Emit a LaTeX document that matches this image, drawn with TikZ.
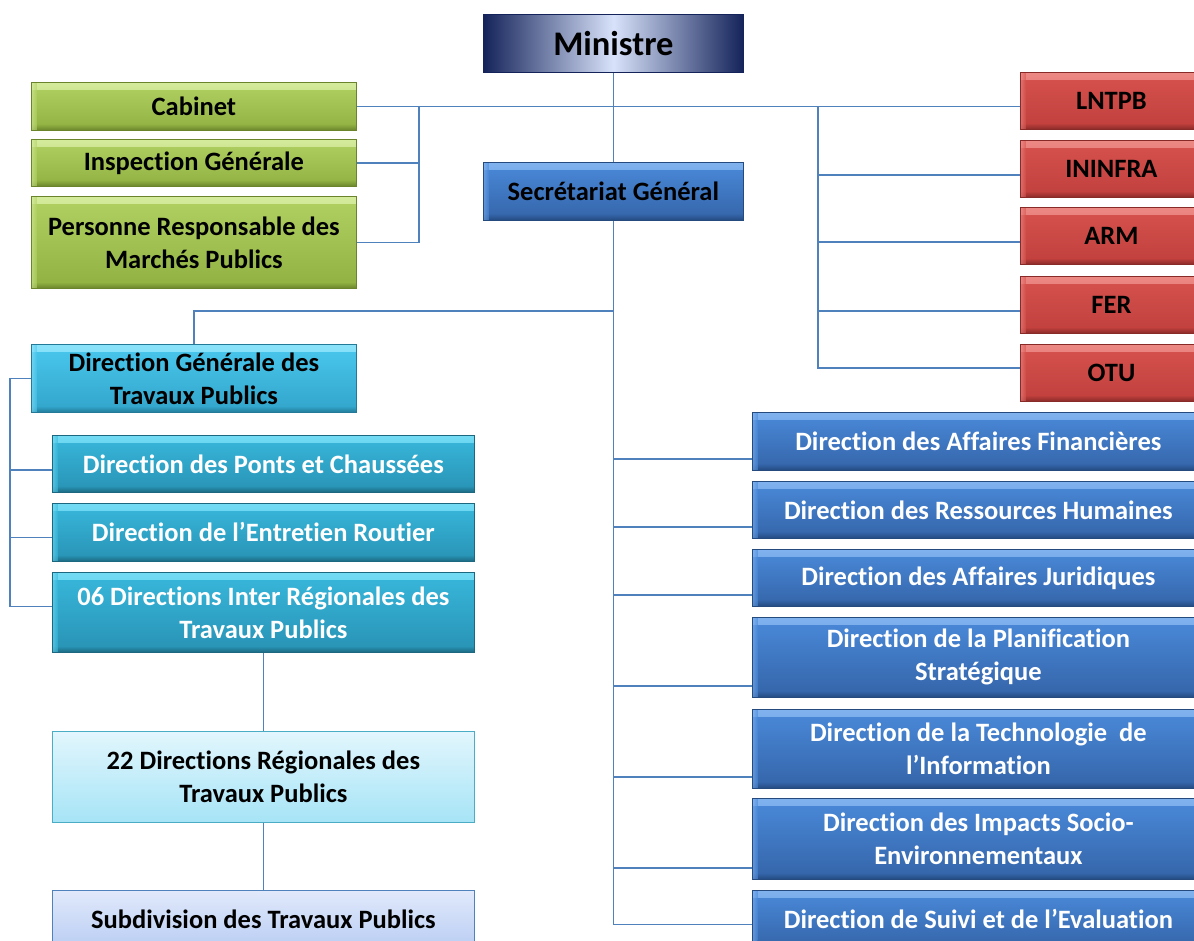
\documentclass[tikz,border=0pt]{standalone}
\usepackage{fontspec}
\setmainfont{Carlito}[Ligatures=NoCommon]
\usetikzlibrary{calc}
\definecolor{grT}{HTML}{B2D163}\definecolor{grB}{HTML}{90B142}\definecolor{grL}{HTML}{D4EB9C}\definecolor{grD}{HTML}{6A842C}
\definecolor{rdT}{HTML}{D6524E}\definecolor{rdB}{HTML}{C0403D}\definecolor{rdL}{HTML}{EC8A86}\definecolor{rdD}{HTML}{872A28}
\definecolor{blT}{HTML}{4A8ADA}\definecolor{blB}{HTML}{3464A8}\definecolor{blL}{HTML}{80B2EE}\definecolor{blD}{HTML}{244A7E}
\definecolor{tlT}{HTML}{38B8DC}\definecolor{tlB}{HTML}{2892B4}\definecolor{tlL}{HTML}{74DBF4}\definecolor{tlD}{HTML}{1C6880}
\definecolor{cyT}{HTML}{4AC8EE}\definecolor{cyB}{HTML}{32A4CA}\definecolor{cyL}{HTML}{8CE3FA}\definecolor{cyD}{HTML}{237A98}
\definecolor{lcT}{HTML}{E2F6FD}\definecolor{lcB}{HTML}{A6E4F6}\definecolor{lcD}{HTML}{4BACC6}
\definecolor{lvT}{HTML}{E1E9FB}\definecolor{lvB}{HTML}{B9CDF3}\definecolor{lvD}{HTML}{4F81BD}
\definecolor{nvO}{HTML}{14235A}\definecolor{nvC}{HTML}{D8E2FA}
\definecolor{conncol}{HTML}{4F81BD}
\tikzset{
  box/.style={anchor=north west, inner sep=2pt, align=center, line width=0.8pt,
    font=\bfseries\fontsize{26.5}{33}\selectfont},
  bevel/.style n args={4}{top color=#1, bottom color=#2, draw=#4,
    path picture={
      \shade[top color=#3, bottom color=#1]
        (path picture bounding box.north west) rectangle ([yshift=-7pt]path picture bounding box.north east);
      \shade[top color=#2, bottom color=#4]
        ([yshift=6pt]path picture bounding box.south west) rectangle (path picture bounding box.south east);
      \shade[left color=#3, right color=#1, opacity=0.6]
        (path picture bounding box.north west) rectangle ([xshift=5pt]path picture bounding box.south west);
    }},
  greenbox/.style={box, bevel={grT}{grB}{grL}{grD}},
  redbox/.style={box, bevel={rdT}{rdB}{rdL}{rdD}},
  bluebox/.style={box, bevel={blT}{blB}{blL}{blD}},
  bluewbox/.style={bluebox, text=white},
  tealbox/.style={box, bevel={tlT}{tlB}{tlL}{tlD}, text=white},
  cyanbox/.style={box, bevel={cyT}{cyB}{cyL}{cyD}},
  lcbox/.style={box, top color=lcT, bottom color=lcB, draw=lcD},
  lvbox/.style={box, top color=lvT, bottom color=lvB, draw=lvD},
  navybox/.style={box, left color=nvO, right color=nvO, middle color=nvC, draw=nvO,
    font=\bfseries\fontsize{34.5}{40}\selectfont},
  conn/.style={draw=conncol, line width=1.5pt}
}
\begin{document}
\begin{tikzpicture}[x=1pt,y=1pt]
\path[use as bounding box, clip] (0,0) rectangle (1194,-941);
\fill[white] (0,0) rectangle (1194,-941);

% top
\node[navybox, minimum width=260pt, minimum height=58pt] (ministre) at (483,-14) {Ministre};
\node[bluebox, minimum width=260pt, minimum height=58pt] (sg) at (483,-162) {Secrétariat Général};

% green
\node[greenbox, minimum width=325pt, minimum height=48pt] (cab) at (31,-82) {Cabinet};
\node[greenbox, minimum width=325pt, minimum height=47pt] (ig) at (31,-139) {Inspection Générale};
\node[greenbox, minimum width=325pt, minimum height=92pt] (prmp) at (31,-196) {Personne Responsable des\\Marchés Publics};

% red
\node[redbox, minimum width=182pt, minimum height=57pt] (lntpb) at (1020,-72) {LNTPB};
\node[redbox, minimum width=182pt, minimum height=57pt] (ininfra) at (1020,-140) {ININFRA};
\node[redbox, minimum width=182pt, minimum height=57pt] (arm) at (1020,-207) {ARM};
\node[redbox, minimum width=182pt, minimum height=57pt] (fer) at (1020,-276) {FER};
\node[redbox, minimum width=182pt, minimum height=57pt] (otu) at (1020,-344) {OTU};

% left branch
\node[cyanbox, minimum width=325pt, minimum height=68pt] (dgtp) at (31,-344) {Direction Générale des\\Travaux Publics};
\node[tealbox, minimum width=422pt, minimum height=57pt] (ponts) at (52,-435) {Direction des Ponts et Chaussées};
\node[tealbox, minimum width=422pt, minimum height=58pt] (entr) at (52,-503) {Direction de l’Entretien Routier};
\node[tealbox, minimum width=422pt, minimum height=80pt] (d06) at (52,-572) {06 Directions Inter Régionales des\\Travaux Publics};
\node[lcbox, minimum width=422pt, minimum height=91pt] (d22) at (52,-731) {22 Directions Régionales des\\Travaux Publics};
\node[lvbox, minimum width=422pt, minimum height=58pt] (subd) at (52,-890) {Subdivision des Travaux Publics};

% right branch
\node[bluewbox, minimum width=452pt, minimum height=58pt] (daf) at (752,-412) {Direction des Affaires Financières};
\node[bluewbox, minimum width=452pt, minimum height=57pt] (drh) at (752,-481) {Direction des Ressources Humaines};
\node[bluewbox, minimum width=452pt, minimum height=57pt] (daj) at (752,-549) {Direction des Affaires Juridiques};
\node[bluewbox, minimum width=452pt, minimum height=80pt] (dps) at (752,-617) {Direction de la Planification\\Stratégique};
\node[bluewbox, minimum width=452pt, minimum height=79pt] (dti) at (752,-709) {Direction de la Technologie \ de\\l’Information};
\node[bluewbox, minimum width=452pt, minimum height=81pt] (dis) at (752,-798) {Direction des Impacts Socio-\\Environnementaux};
\node[bluewbox, minimum width=452pt, minimum height=58pt] (dse) at (752,-890) {Direction de Suivi et de l’Evaluation};

% junctions
\coordinate (jl) at ($(cab.east)+(62,0)$);
\coordinate (jr) at ($(cab.east)+(461,0)$);
\coordinate (jdg) at ($(sg.south)+(0,-90)$);
\coordinate (jg) at ($(dgtp.west)+(-21,0)$);

% connectors top
\draw[conn] (ministre.south) -- (sg.north);
\draw[conn] (cab.east) -- (cab.east -| lntpb.west);
\draw[conn] (ig.east) -| (jl);
\draw[conn] (prmp.east) -| (jl);
\draw[conn] (jr) |- ([yshift=-6pt]ininfra.west);
\draw[conn] (jr) |- ([yshift=-6pt]arm.west);
\draw[conn] (jr) |- ([yshift=-6pt]fer.west);
\draw[conn] (jr) |- ([yshift=5pt]otu.west);

% secretariat trunk
\draw[conn] (sg.south) |- ([yshift=-5pt]dse.west);
\draw[conn] (dgtp.north) |- (jdg);
\foreach \n in {daf,drh,daj,dps,dti,dis}{
  \coordinate (t\n) at ([yshift=12pt]\n.south west);
  \draw[conn] (t\n) -- (sg.south |- t\n);
}

% DGTP trunk
\draw[conn] (dgtp.west) -- (jg) |- ([yshift=6pt]d06.west);
\draw[conn] (jg) |- ([yshift=-6pt]ponts.west);
\draw[conn] (jg) |- ([yshift=-5pt]entr.west);
\draw[conn] (d06.south) -- (d22.north);
\draw[conn] (d22.south) -- (subd.north);
\end{tikzpicture}
\end{document}
